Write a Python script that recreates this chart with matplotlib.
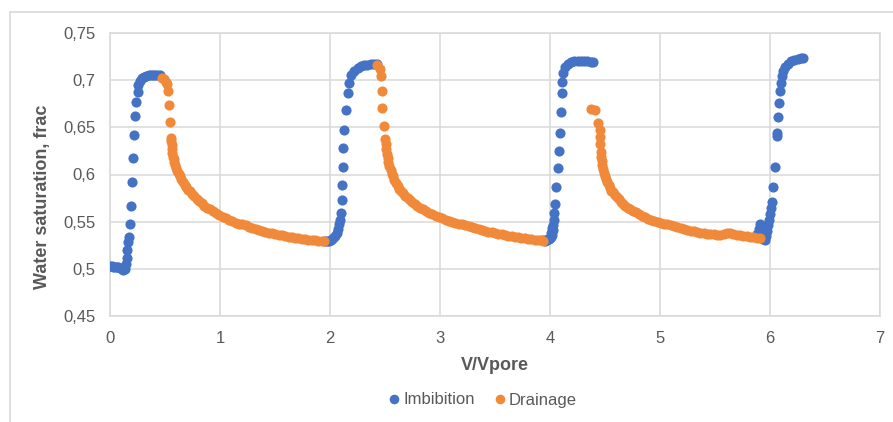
import matplotlib
matplotlib.use("Agg")
import matplotlib.pyplot as plt
from matplotlib.patches import Rectangle
from matplotlib.ticker import FuncFormatter

plt.rcParams['font.family'] = ['Liberation Sans', 'DejaVu Sans']

# Imbibition points (blue), cycle by cycle
imb1_x = [0.0, 0.015, 0.03, 0.045, 0.06, 0.075, 0.09, 0.105, 0.12, 0.135, 0.145, 0.152, 0.157,
          0.165, 0.175, 0.18, 0.188, 0.2, 0.206, 0.218, 0.226, 0.24, 0.25, 0.258, 0.27, 0.29,
          0.31, 0.33, 0.35, 0.37, 0.39, 0.41, 0.43, 0.45]
imb1_y = [0.503, 0.503, 0.502, 0.502, 0.502, 0.502, 0.501, 0.500, 0.499, 0.500, 0.505, 0.511, 0.520,
          0.528, 0.534, 0.548, 0.567, 0.592, 0.618, 0.642, 0.662, 0.677, 0.687, 0.695, 0.699, 0.702,
          0.703, 0.704, 0.705, 0.705, 0.705, 0.706, 0.706, 0.706]

imb2_x = [1.95, 1.97, 1.99, 2.01, 2.03, 2.045, 2.06, 2.07, 2.08, 2.09, 2.097, 2.106, 2.112, 2.116,
          2.12, 2.13, 2.145, 2.16, 2.175, 2.195, 2.22, 2.25, 2.28, 2.31, 2.34, 2.37, 2.40, 2.43]
imb2_y = [0.530, 0.530, 0.530, 0.531, 0.533, 0.535, 0.538, 0.542, 0.547, 0.552, 0.559, 0.573, 0.589, 0.608,
          0.628, 0.647, 0.668, 0.686, 0.697, 0.705, 0.710, 0.713, 0.715, 0.716, 0.716, 0.717, 0.717, 0.717]

imb3_x = [3.94, 3.95, 3.96, 3.97, 3.98, 3.99, 4.00, 4.005, 4.012, 4.015, 4.02, 4.025, 4.03, 4.036,
          4.04, 4.045, 4.055, 4.07, 4.08, 4.088, 4.098, 4.105, 4.11, 4.12, 4.135, 4.16, 4.19, 4.22,
          4.25, 4.28, 4.31, 4.34, 4.37, 4.39]
imb3_y = [0.531, 0.530, 0.531, 0.531, 0.532, 0.532, 0.533, 0.534, 0.538, 0.536, 0.543, 0.541, 0.546, 0.552,
          0.559, 0.569, 0.587, 0.607, 0.625, 0.644, 0.666, 0.686, 0.698, 0.708, 0.714, 0.717, 0.719, 0.720,
          0.720, 0.720, 0.720, 0.720, 0.719, 0.719]

imb4_x = [5.88, 5.90, 5.91, 5.92, 5.93, 5.94, 5.95, 5.96, 5.97, 5.98, 5.99, 6.0, 6.01, 6.02, 6.03,
          6.045, 6.06, 6.065, 6.075, 6.085, 6.095, 6.10, 6.11, 6.12, 6.14, 6.16, 6.19, 6.22, 6.25,
          6.28, 6.30]
imb4_y = [0.537, 0.542, 0.548, 0.540, 0.535, 0.532, 0.531, 0.535, 0.540, 0.546, 0.552, 0.558, 0.565, 0.571, 0.587,
          0.608, 0.641, 0.644, 0.661, 0.676, 0.688, 0.697, 0.704, 0.710, 0.714, 0.717, 0.720, 0.721, 0.722,
          0.723, 0.723]

# Drainage points (orange)
dr1_x = [0.47, 0.49, 0.51, 0.52, 0.53, 0.532, 0.545, 0.555,
         0.558, 0.561, 0.564, 0.568, 0.573, 0.579, 0.586, 0.594, 0.603, 0.613, 0.624, 0.636, 0.649,
         0.663, 0.678, 0.694, 0.711, 0.729, 0.748, 0.768, 0.789, 0.811, 0.834, 0.858, 0.883, 0.909,
         0.936, 0.964, 0.993, 1.023, 1.053, 1.083, 1.113, 1.143, 1.173, 1.203, 1.233, 1.263, 1.293,
         1.323, 1.353, 1.383, 1.413, 1.443, 1.473, 1.503, 1.533, 1.563, 1.593, 1.623, 1.653, 1.683,
         1.713, 1.743, 1.773, 1.803, 1.833, 1.863, 1.893, 1.923, 1.945]
dr1_y = [0.702, 0.701, 0.698, 0.696, 0.688, 0.674, 0.656, 0.639,
         0.636, 0.631, 0.627, 0.623, 0.619, 0.616, 0.613, 0.610, 0.607, 0.604, 0.601, 0.598, 0.595,
         0.592, 0.589, 0.587, 0.584, 0.582, 0.579, 0.577, 0.574, 0.572, 0.570, 0.567, 0.565, 0.563,
         0.561, 0.559, 0.557, 0.555, 0.554, 0.552, 0.551, 0.549, 0.548, 0.547, 0.546, 0.544, 0.543,
         0.542, 0.541, 0.540, 0.539, 0.538, 0.538, 0.537, 0.536, 0.536, 0.535, 0.534, 0.534, 0.533,
         0.533, 0.532, 0.532, 0.531, 0.531, 0.531, 0.530, 0.530, 0.529]

dr2_x = [2.43, 2.455, 2.465, 2.47, 2.475, 2.49, 2.50,
         2.505, 2.510, 2.516, 2.523, 2.531, 2.540, 2.550, 2.561, 2.573, 2.586, 2.600, 2.615, 2.631,
         2.648, 2.666, 2.685, 2.705, 2.726, 2.748, 2.771, 2.795, 2.820, 2.846, 2.873, 2.901, 2.930,
         2.960, 2.990, 3.020, 3.050, 3.080, 3.110, 3.140, 3.170, 3.200, 3.230, 3.260, 3.290, 3.320,
         3.350, 3.380, 3.410, 3.440, 3.470, 3.500, 3.530, 3.560, 3.590, 3.620, 3.650, 3.680, 3.710,
         3.740, 3.770, 3.800, 3.830, 3.860, 3.890, 3.920, 3.935]
dr2_y = [0.716, 0.712, 0.704, 0.688, 0.670, 0.651, 0.638,
         0.632, 0.627, 0.622, 0.617, 0.613, 0.609, 0.605, 0.601, 0.598, 0.594, 0.591, 0.588, 0.585,
         0.582, 0.580, 0.577, 0.575, 0.573, 0.571, 0.569, 0.567, 0.565, 0.563, 0.561, 0.559, 0.558,
         0.556, 0.555, 0.554, 0.552, 0.551, 0.550, 0.549, 0.548, 0.547, 0.546, 0.545, 0.544, 0.543,
         0.542, 0.541, 0.540, 0.539, 0.539, 0.538, 0.537, 0.537, 0.536, 0.535, 0.535, 0.534, 0.534,
         0.533, 0.533, 0.532, 0.532, 0.531, 0.531, 0.531, 0.530]

dr3_x = [4.37, 4.41, 4.44, 4.45, 4.455, 4.457,
         4.460, 4.464, 4.469, 4.475, 4.482, 4.490, 4.499, 4.509, 4.520, 4.532, 4.545, 4.559, 4.574,
         4.590, 4.607, 4.625, 4.644, 4.664, 4.685, 4.707, 4.730, 4.754, 4.779, 4.805, 4.832, 4.860,
         4.889, 4.918, 4.948, 4.978, 5.008, 5.038, 5.068, 5.098, 5.128, 5.158, 5.188, 5.218, 5.248,
         5.278, 5.308, 5.338, 5.368, 5.398, 5.428, 5.458, 5.488, 5.518, 5.548, 5.578, 5.608, 5.638,
         5.668, 5.698, 5.728, 5.758, 5.788, 5.818, 5.848, 5.878, 5.905]
dr3_y = [0.669, 0.668, 0.655, 0.647, 0.640, 0.632,
         0.624, 0.619, 0.614, 0.610, 0.606, 0.602, 0.598, 0.595, 0.592, 0.589, 0.586, 0.583, 0.581,
         0.578, 0.576, 0.574, 0.571, 0.569, 0.567, 0.565, 0.563, 0.561, 0.560, 0.558, 0.556, 0.555,
         0.553, 0.552, 0.551, 0.550, 0.549, 0.548, 0.547, 0.546, 0.545, 0.544, 0.543, 0.542, 0.541,
         0.540, 0.540, 0.539, 0.538, 0.538, 0.537, 0.537, 0.537, 0.536, 0.536, 0.537, 0.538, 0.538,
         0.537, 0.536, 0.536, 0.535, 0.535, 0.534, 0.534, 0.533, 0.533]

x_ticks = [0, 1, 2, 3, 4, 5, 6, 7]
y_ticks = [0.45, 0.5, 0.55, 0.6, 0.65, 0.7, 0.75]

blue = '#4472C4'
orange = '#F08A3A'
grey_txt = '#595959'
grid_c = '#D9D9D9'

fig = plt.figure(figsize=(8.93, 4.22), dpi=100)
ax = fig.add_axes([110 / 893, 1 - 316 / 422, 770 / 893, 283 / 422])

ms = 7.3
ax.plot(imb1_x + imb2_x + imb3_x + imb4_x, imb1_y + imb2_y + imb3_y + imb4_y,
        'o', color=blue, ms=ms, mec='none', label='Imbibition', zorder=3)
ax.plot(dr1_x + dr2_x + dr3_x, dr1_y + dr2_y + dr3_y,
        'o', color=orange, ms=ms, mec='none', label='Drainage', zorder=3)

ax.set_xlim(0, 7)
ax.set_ylim(0.45, 0.75)
ax.set_xticks(x_ticks)
ax.set_yticks(y_ticks)
ax.yaxis.set_major_formatter(FuncFormatter(lambda v, p: f"{v:g}".replace('.', ',')))
ax.grid(True, color=grid_c, lw=1.1, zorder=0)
for s in ax.spines.values():
    s.set_color(grid_c)
    s.set_linewidth(1.1)
ax.tick_params(length=0, labelsize=12, labelcolor=grey_txt)
ax.tick_params(axis='y', pad=10.5)
ax.tick_params(axis='x', pad=11)

fig.text(43 / 893, 1 - 197 / 422, 'Water saturation, frac', rotation=90, ha='center', va='center',
         fontsize=13, fontweight='bold', color=grey_txt)
fig.text(495 / 893, 1 - 366 / 422, 'V/Vpore', ha='center', va='center',
         fontsize=13, fontweight='bold', color=grey_txt)

fig.legend(loc='center', bbox_to_anchor=(483 / 893, 1 - 400 / 422), ncol=2, frameon=False,
           fontsize=12, labelcolor=grey_txt, handlelength=0.6, handletextpad=0.25,
           columnspacing=1.2, markerscale=0.95)

# outer chart border (cut off at right and bottom)
fig.add_artist(Rectangle((10 / 893, -0.2), 1.2, 1.2 - 12 / 422, transform=fig.transFigure,
                         fill=False, ec=grid_c, lw=1.2))

fig.savefig('out.png', dpi=100)
